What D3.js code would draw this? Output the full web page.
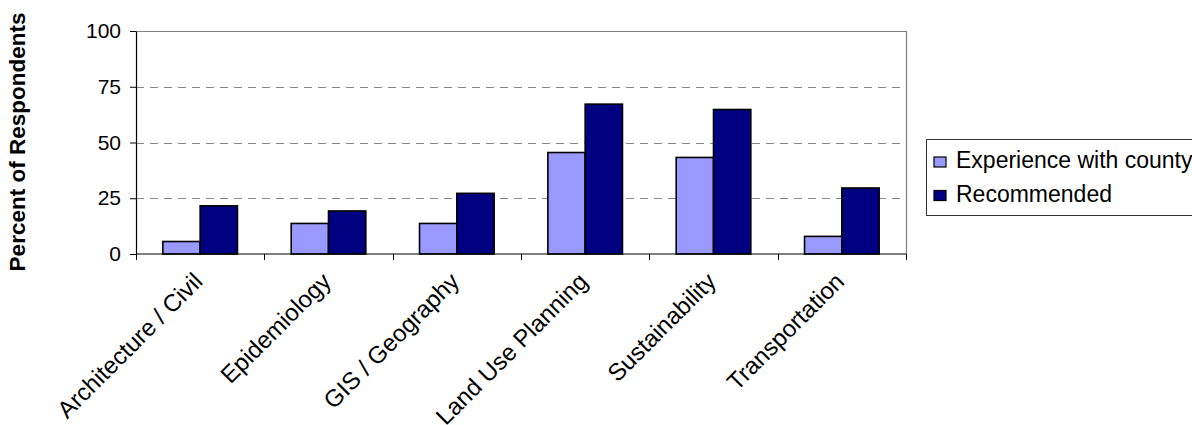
<!DOCTYPE html>
<html>
<head>
<meta charset="utf-8">
<script src="https://cdn.jsdelivr.net/npm/d3@7"></script>
<style>
  html, body { margin: 0; padding: 0; background: #fff; }
  svg { display: block; font-family: "Liberation Sans", Arial, sans-serif; }
</style>
</head>
<body>
<svg id="chart" width="1192" height="425"></svg>
<script>
// Survey results by discipline (percent of respondents)
const categories = ["Architecture / Civil", "Epidemiology", "GIS / Geography",
                    "Land Use Planning", "Sustainability", "Transportation"];
const seriesNames = ["Experience with county", "Recommended"];
const experienceWithCounty = [5.6, 13.7, 13.7, 45.5, 43.3, 7.9];
const recommended = [21.6, 19.3, 27.2, 67.2, 64.8, 29.6];
const yTicks = [0, 25, 50, 75, 100];
const seriesColors = ["#9999FF", "#000080"];

const seriesValues = [experienceWithCounty, recommended];
const rows = categories.map((c, i) => ({
  category: c,
  values: seriesNames.map((s, j) => ({ series: s, value: seriesValues[j][i] }))
}));

const svg = d3.select("#chart");
const plot = { left: 136, right: 906, top: 31, bottom: 254 };

const x0 = d3.scaleBand().domain(categories).range([plot.left, plot.right])
  .paddingInner(0).paddingOuter(0);
const x1 = d3.scaleBand().domain(seriesNames).range([0, x0.bandwidth()])
  .paddingInner(0).paddingOuter(0.72);
const y = d3.scaleLinear().domain([0, 100]).range([plot.bottom, plot.top]);
const color = d3.scaleOrdinal().domain(seriesNames).range(seriesColors);

// gridlines
svg.append("g")
  .selectAll("line")
  .data(yTicks.filter(t => t > 0 && t < 100))
  .join("line")
  .attr("x1", plot.left).attr("x2", plot.right)
  .attr("y1", d => Math.round(y(d)) + 0.5).attr("y2", d => Math.round(y(d)) + 0.5)
  .attr("stroke", "#888").attr("stroke-width", 1)
  .attr("stroke-dasharray", "8,6");

// plot frame: top and right edges
svg.append("path")
  .attr("d", `M${plot.left},${plot.top + 0.5}H${plot.right + 0.5}V${plot.bottom}`)
  .attr("fill", "none").attr("stroke", "#808080").attr("stroke-width", 1.2);

// bars
svg.append("g")
  .selectAll("g")
  .data(rows)
  .join("g")
  .attr("transform", d => `translate(${x0(d.category)},0)`)
  .selectAll("rect")
  .data(d => d.values)
  .join("rect")
  .attr("x", d => x1(d.series))
  .attr("width", x1.bandwidth())
  .attr("y", d => y(d.value))
  .attr("height", d => y(0) - y(d.value))
  .attr("fill", d => color(d.series))
  .attr("stroke", "#000").attr("stroke-width", 1.6);

// y axis
const yAxis = svg.append("g")
  .attr("transform", `translate(${plot.left},0)`)
  .call(d3.axisLeft(y).tickValues(yTicks).tickSize(6).tickSizeOuter(0).tickPadding(9));
yAxis.select(".domain").attr("stroke", "#000").attr("stroke-width", 1.2);
yAxis.selectAll(".tick line").attr("stroke", "#000");
yAxis.selectAll(".tick text")
  .attr("font-size", 21).attr("font-family", "Liberation Sans, Arial, sans-serif")
  .attr("fill", "#000");

// x axis with ticks between categories
const xAxis = svg.append("g")
  .attr("transform", `translate(0,${plot.bottom})`);
xAxis.append("line")
  .attr("x1", plot.left).attr("x2", plot.right)
  .attr("stroke", "#000").attr("stroke-width", 1.2);
const boundaries = categories.map(c => x0(c)).concat([x0.range()[1]]);
xAxis.selectAll("line.tick")
  .data(boundaries)
  .join("line")
  .attr("class", "tick")
  .attr("x1", d => Math.round(d) + 0.5).attr("x2", d => Math.round(d) + 0.5)
  .attr("y1", 0).attr("y2", 6)
  .attr("stroke", "#000");

// rotated category labels
svg.append("g")
  .selectAll("text")
  .data(categories)
  .join("text")
  .attr("transform", d => `translate(${x0(d) + x0.bandwidth() / 2 - 2},277) rotate(-45)`)
  .attr("text-anchor", "end")
  .attr("dy", "0.35em")
  .attr("font-size", 24)
  .attr("fill", "#000")
  .text(d => d);

// y axis title
svg.append("text")
  .attr("transform", "translate(25,142) rotate(-90)")
  .attr("text-anchor", "middle")
  .attr("font-size", 22.5)
  .attr("font-weight", "bold")
  .attr("fill", "#000")
  .text("Percent of Respondents");

// legend
const legend = svg.append("g");
legend.append("rect")
  .attr("x", 926.5).attr("y", 139.5)
  .attr("width", 300).attr("height", 76)
  .attr("fill", "#fff").attr("stroke", "#333").attr("stroke-width", 1);
const items = legend.selectAll("g.item")
  .data(seriesNames)
  .join("g")
  .attr("class", "item")
  .attr("transform", (d, i) => `translate(0,${168 + i * 33.5})`);
items.append("rect")
  .attr("x", 934).attr("y", -11)
  .attr("width", 12).attr("height", 10)
  .attr("fill", d => color(d))
  .attr("stroke", "#000").attr("stroke-width", 1.2);
items.append("text")
  .attr("x", 956)
  .attr("font-size", 23)
  .attr("fill", "#000")
  .text(d => d);
</script>
</body>
</html>
